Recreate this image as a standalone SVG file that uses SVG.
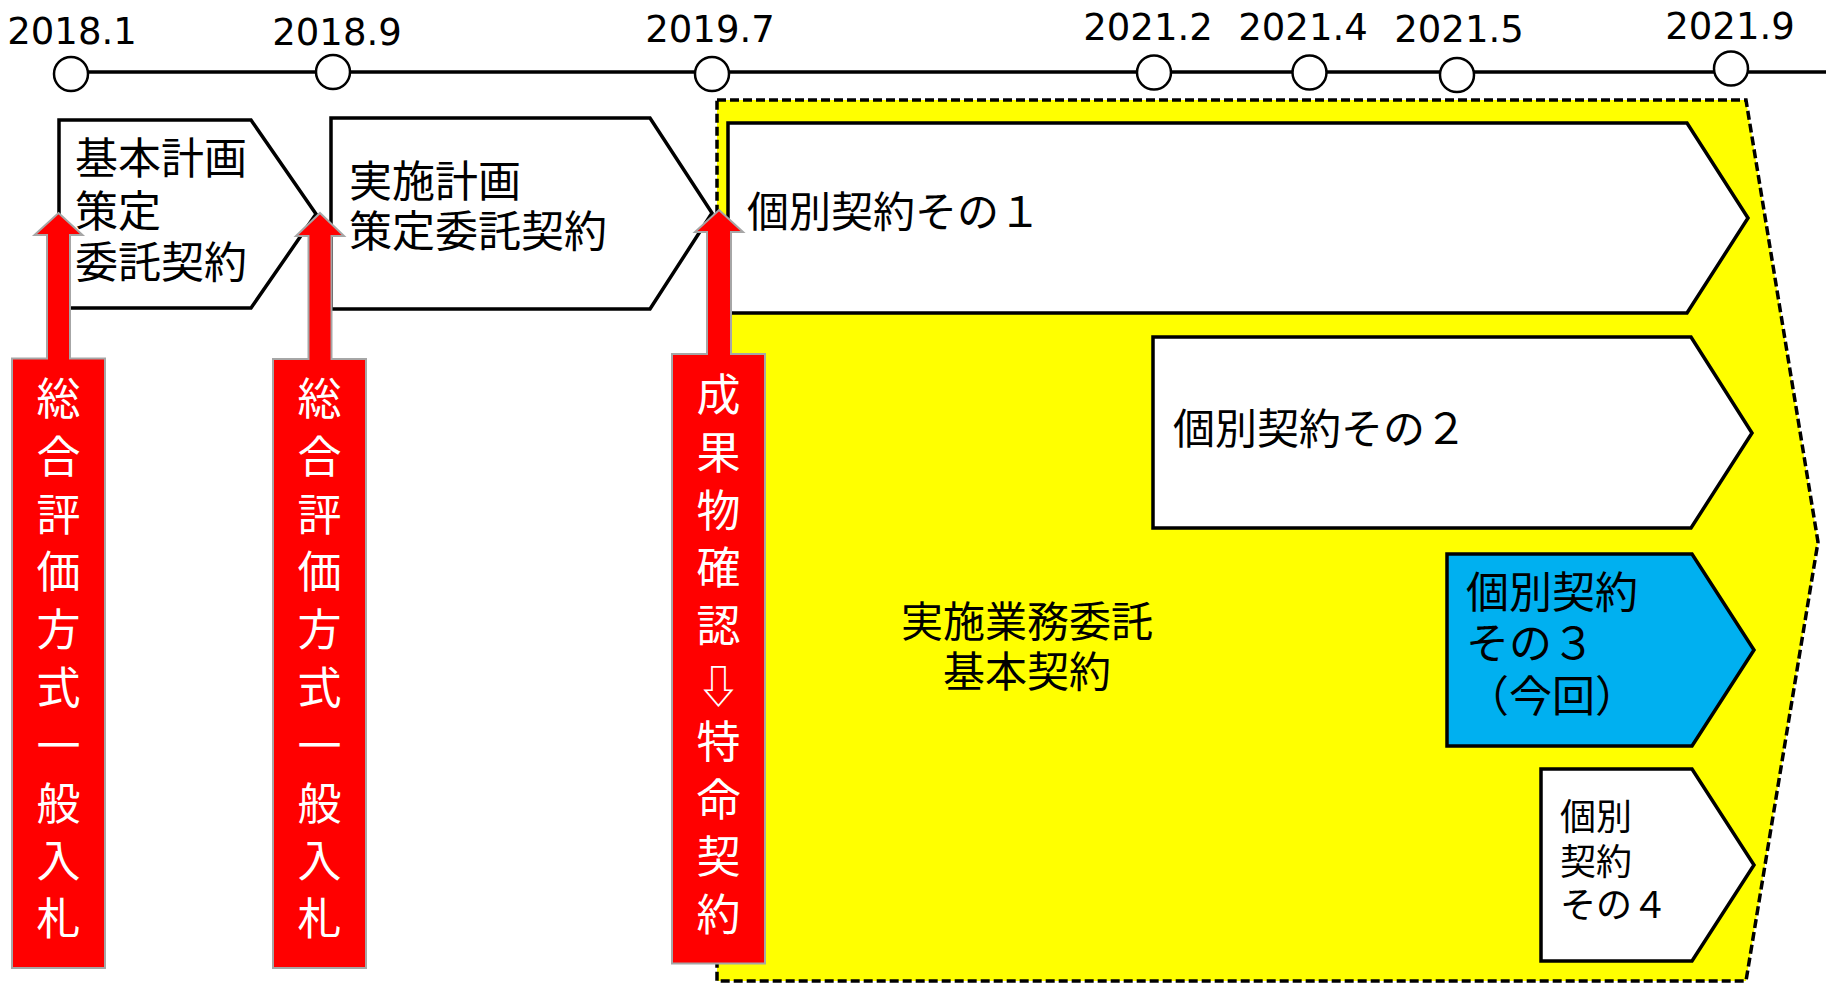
<svg xmlns="http://www.w3.org/2000/svg" width="1831" height="986" viewBox="0 0 1831 986">
<style>
.bg{fill:#ffffff}
.date{font-family:"DejaVu Sans",sans-serif;font-size:37px;fill:#000;text-anchor:middle}
.tl{stroke:#000;stroke-width:3.5;fill:none}
.dot{fill:#fff;stroke:#000;stroke-width:2.5}
.box{fill:#fff;stroke:#000;stroke-width:3.5;stroke-linejoin:miter}
.blue{fill:#00B0F0;stroke:#000;stroke-width:3.5}
.yel{fill:#FFFF00;stroke:#000;stroke-width:3.5;stroke-dasharray:9 4}
.jp{font-family:"Noto Sans CJK JP","Noto Sans CJK SC",sans-serif;font-size:42px;fill:#000}
.jp3{font-family:"Noto Sans CJK JP","Noto Sans CJK SC",sans-serif;font-size:43px;fill:#000}
.jp4{font-family:"Noto Sans CJK JP","Noto Sans CJK SC",sans-serif;font-size:36px;fill:#000}
.arrow{fill:#FF0000;stroke:#A6A6A6;stroke-width:2}
.rt{font-family:"Noto Sans CJK JP","Noto Sans CJK SC",sans-serif;font-size:44px;fill:#fff;text-anchor:middle}
</style>
<rect class="bg" x="0" y="0" width="1831" height="986"/>

<g id="timeline">
  <line class="tl" x1="71" y1="72" x2="1826" y2="72"/>
  <ellipse class="dot" cx="71" cy="74" rx="17" ry="17"/>
  <ellipse class="dot" cx="333" cy="72" rx="17" ry="17"/>
  <ellipse class="dot" cx="712" cy="74" rx="17" ry="17"/>
  <ellipse class="dot" cx="1154" cy="72.5" rx="17" ry="17"/>
  <ellipse class="dot" cx="1309.5" cy="72.5" rx="17" ry="17"/>
  <ellipse class="dot" cx="1457" cy="75" rx="17" ry="17"/>
  <ellipse class="dot" cx="1731" cy="68.5" rx="17" ry="17"/>
  <text class="date" x="72" y="44">2018.1</text>
  <text class="date" x="337" y="45">2018.9</text>
  <text class="date" x="710" y="42">2019.7</text>
  <text class="date" x="1148" y="40">2021.2</text>
  <text class="date" x="1303" y="40">2021.4</text>
  <text class="date" x="1459" y="42">2021.5</text>
  <text class="date" x="1730" y="39">2021.9</text>
</g>

<g id="basic-contract">
  <path class="yel" d="M717,100 L1746,100 L1818,542 L1746,981 L717,981 Z"/>
  <text class="jp" text-anchor="middle"><tspan x="1027" y="637">実施業務委託</tspan><tspan x="1027" y="687">基本契約</tspan></text>
</g>

<g id="plan1">
  <path class="box" d="M59,120 L251,120 L316,214 L251,308 L59,308 Z"/>
  <text class="jp3"><tspan x="75" y="174">基本計画</tspan><tspan x="75" y="227">策定</tspan><tspan x="75" y="278">委託契約</tspan></text>
</g>

<g id="plan2">
  <path class="box" d="M331,118 L650,118 L712,213 L650,309 L331,309 Z"/>
  <text class="jp3"><tspan x="349" y="197">実施計画</tspan><tspan x="349" y="247">策定委託契約</tspan></text>
</g>

<g id="contract1">
  <path class="box" d="M728,123 L1687,123 L1748,218 L1687,313 L728,313 Z"/>
  <text class="jp" x="747" y="227">個別契約その１</text>
</g>

<g id="contract2">
  <path class="box" d="M1153,337 L1691,337 L1752,433 L1691,528 L1153,528 Z"/>
  <text class="jp" x="1173" y="444">個別契約その２</text>
</g>

<g id="contract3">
  <path class="blue" d="M1447,554 L1692,554 L1754,650 L1692,746 L1447,746 Z"/>
  <text class="jp3"><tspan x="1466" y="608">個別契約</tspan><tspan x="1466" y="659">その３</tspan><tspan x="1466" y="712">（今回）</tspan></text>
</g>

<g id="contract4">
  <path class="box" d="M1541,769 L1692,769 L1754,865 L1692,961 L1541,961 Z"/>
  <text class="jp4"><tspan x="1560" y="830">個別</tspan><tspan x="1560" y="875">契約</tspan><tspan x="1560" y="918">その４</tspan></text>
</g>

<g id="connectors">
  <g id="bid1">
    <path class="arrow" d="M58.5,213 L82.5,235 L70,235 L70,358.5 L105,358.5 L105,968 L12,968 L12,358.5 L47,358.5 L47,235 L34.5,235 Z"/>
    <text class="rt"><tspan x="58.5" y="415">総</tspan><tspan x="58.5" y="473">合</tspan><tspan x="58.5" y="531">評</tspan><tspan x="58.5" y="588">価</tspan><tspan x="58.5" y="646">方</tspan><tspan x="58.5" y="704">式</tspan><tspan x="58.5" y="762">一</tspan><tspan x="58.5" y="820">般</tspan><tspan x="58.5" y="877">入</tspan><tspan x="58.5" y="935">札</tspan></text>
  </g>
  <g id="bid2">
    <path class="arrow" d="M320,213 L344,236 L331.5,236 L331.5,359 L366,359 L366,968 L273,968 L273,359 L308.5,359 L308.5,236 L296,236 Z"/>
    <text class="rt"><tspan x="319.5" y="415">総</tspan><tspan x="319.5" y="473">合</tspan><tspan x="319.5" y="531">評</tspan><tspan x="319.5" y="588">価</tspan><tspan x="319.5" y="646">方</tspan><tspan x="319.5" y="704">式</tspan><tspan x="319.5" y="762">一</tspan><tspan x="319.5" y="820">般</tspan><tspan x="319.5" y="877">入</tspan><tspan x="319.5" y="935">札</tspan></text>
  </g>
  <g id="negotiated">
    <path class="arrow" d="M719,210 L743,232 L731,232 L731,354 L765,354 L765,963.5 L672,963.5 L672,354 L707,354 L707,232 L695,232 Z"/>
    <text class="rt"><tspan x="718.5" y="411">成</tspan><tspan x="718.5" y="469">果</tspan><tspan x="718.5" y="527">物</tspan><tspan x="718.5" y="584">確</tspan><tspan x="718.5" y="642">認</tspan><tspan x="718.5" y="703">⇩</tspan><tspan x="718.5" y="758">特</tspan><tspan x="718.5" y="816">命</tspan><tspan x="718.5" y="873">契</tspan><tspan x="718.5" y="931">約</tspan></text>
  </g>
</g>
</svg>
